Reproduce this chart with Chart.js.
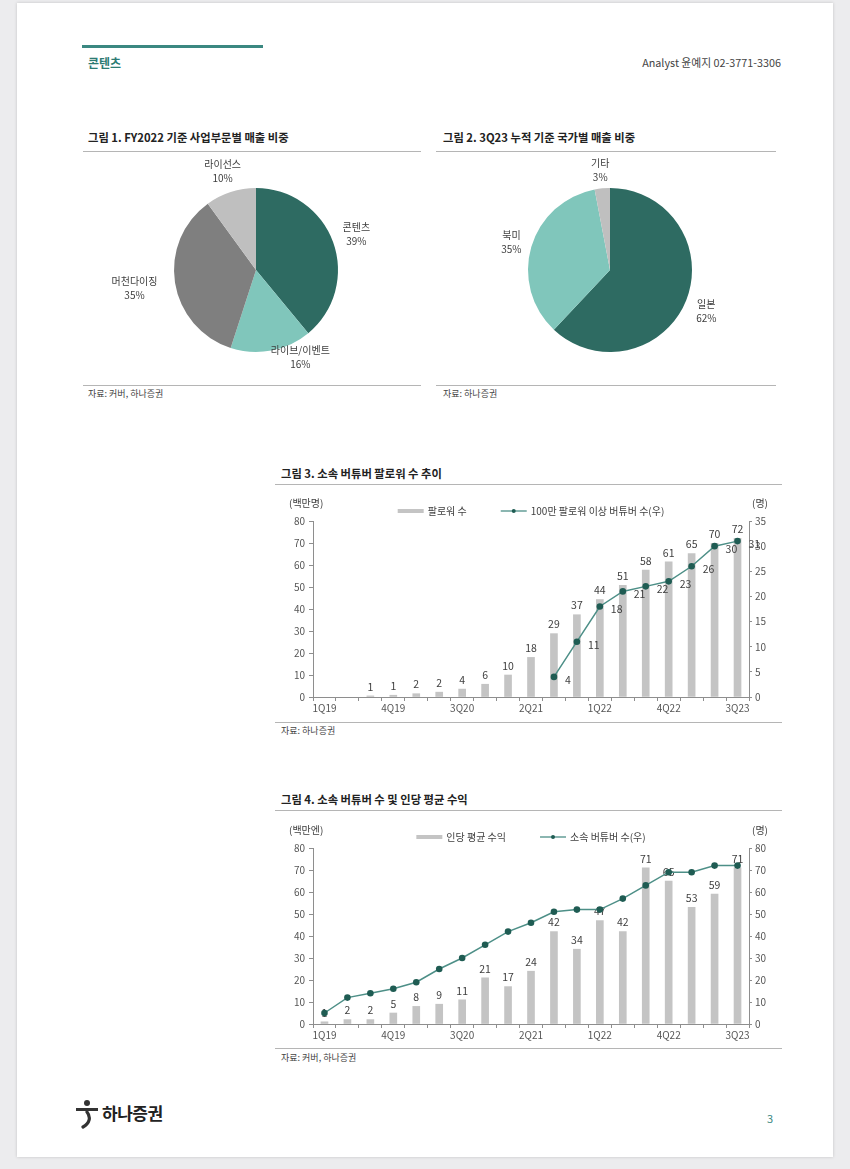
<!DOCTYPE html>
<html><head><meta charset="utf-8">
<script src="https://cdn.jsdelivr.net/npm/chart.js@4.4.1/dist/chart.umd.min.js"></script>
<style>
html,body{margin:0;padding:0;}
body{width:850px;height:1169px;background:#ececee;position:relative;overflow:hidden;font-family:"Noto Sans CJK KR","Noto Sans",sans-serif;color:#333;}
.page{position:absolute;left:17px;top:3px;width:816px;height:1154px;background:#fff;box-shadow:0 0 3px rgba(0,0,0,0.18);}
.abs{position:absolute;white-space:nowrap;}
.title{font-size:11.3px;font-weight:700;color:#222;line-height:14px;}
.src{font-size:9px;color:#444;line-height:12px;}
.rule{height:1px;background:#b5b5b5;}
canvas{position:absolute;}
</style></head>
<body>
<div class="page"></div>
<div class="abs" style="left:82px;top:45px;width:181px;height:3px;background:#3b8881;"></div>
<div class="abs" style="left:88px;top:55px;font-size:12px;font-weight:700;color:#2d7b73;line-height:16px;">콘텐츠</div>
<div class="abs" style="right:69px;top:55px;font-size:10.8px;color:#444;line-height:15px;">Analyst 윤예지 02-3771-3306</div>

<div class="abs title" style="left:88px;top:130px;">그림 1. FY2022 기준 사업부문별 매출 비중</div>
<div class="abs rule" style="left:83px;top:151px;width:338px;"></div>
<div class="abs rule" style="left:83px;top:385px;width:338px;"></div>
<div class="abs src" style="left:88px;top:388px;">자료: 커버, 하나증권</div>

<div class="abs title" style="left:443px;top:130px;">그림 2. 3Q23 누적 기준 국가별 매출 비중</div>
<div class="abs rule" style="left:436px;top:151px;width:340px;"></div>
<div class="abs rule" style="left:436px;top:385px;width:340px;"></div>
<div class="abs src" style="left:443px;top:388px;">자료: 하나증권</div>

<div class="abs title" style="left:281px;top:466px;">그림 3. 소속 버튜버 팔로워 수 추이</div>
<div class="abs rule" style="left:275px;top:484px;width:507px;"></div>
<div class="abs rule" style="left:275px;top:722px;width:507px;"></div>
<div class="abs src" style="left:281px;top:725px;">자료: 하나증권</div>

<div class="abs title" style="left:281px;top:792px;">그림 4. 소속 버튜버 수 및 인당 평균 수익</div>
<div class="abs rule" style="left:275px;top:810px;width:507px;"></div>
<div class="abs rule" style="left:275px;top:1048px;width:507px;"></div>
<div class="abs src" style="left:281px;top:1052px;">자료: 커버, 하나증권</div>

<svg class="abs" style="left:74px;top:1099px;" width="26" height="30" viewBox="0 0 26 30">
<circle cx="13" cy="4" r="3" fill="#333"/>
<rect x="2" y="9" width="22" height="3" fill="#333"/>
<path d="M13 13 C17 18,16 24,9 28" stroke="#333" stroke-width="3.2" fill="none" stroke-linecap="round"/>
</svg>
<div class="abs" style="left:102px;top:1101px;font-size:17px;font-weight:700;color:#222;line-height:23px;letter-spacing:-0.5px;">하나증권</div>
<div class="abs" style="left:767px;top:1111px;font-size:11px;color:#3b8881;line-height:14px;">3</div>

<canvas id="pie1" width="337" height="228" style="left:83px;top:155px;"></canvas>
<canvas id="pie2" width="337" height="228" style="left:437px;top:155px;"></canvas>
<canvas id="c3" width="510" height="234" style="left:275px;top:488px;"></canvas>
<canvas id="c4" width="510" height="232" style="left:275px;top:815px;"></canvas>

<script>
// ---------- data ----------
const quarters = ['1Q19','2Q19','3Q19','4Q19','1Q20','2Q20','3Q20','4Q20','1Q21','2Q21','3Q21','4Q21','1Q22','2Q22','3Q22','4Q22','1Q23','2Q23','3Q23'];
const segmentLabels = ['콘텐츠','라이브/이벤트','머천다이징','라이선스'];
const segmentShares = [39,16,35,10];
const regionLabels = ['일본','북미','기타'];
const regionShares = [62,35,3];
const followers = [null,null,0.5,0.8,1.5,2.2,3.6,5.8,10.0,18.0,28.8,37.4,44.3,50.8,57.7,61.4,65.2,69.8,72.1];
const vtubers1M = [null,null,null,null,null,null,null,null,null,null,4,11,18,21,22,23,26,30,31];
const revenuePerTalent = [1,2,2,5,8,9,11,21,17,24,42,34,47,42,71,65,53,59,71];
const talentCount = [5,12,14,16,19,25,30,36,42,46,51,52,52,57,63,69,69,72,72];
const leftAxis3 = {min:0,max:80,step:10};
const rightAxis3 = {min:0,max:35,step:5};
const leftAxis4 = {min:0,max:80,step:10};
const rightAxis4 = {min:0,max:80,step:10};

// ---------- styles ----------
const FONT = '"Noto Sans CJK KR","Noto Sans",sans-serif';
const DARK = '#2e6b62', LIGHT = '#80c6bb', GRAY = '#7f7f7f', LGRAY = '#bfbfbf';
const BAR = '#c4c4c4', LINE = '#4d8f87', PT = '#1f5c53', AXIS = '#8e8e8e', TXT = '#404040';
Chart.defaults.font.family = FONT;

const pieLabels = {
  id:'pieLabels',
  afterDatasetsDraw(chart, args, opts){
    const ctx = chart.ctx, meta = chart.getDatasetMeta(0), ds = chart.data.datasets[0];
    ctx.save();
    ctx.font = `10px ${FONT}`; ctx.fillStyle = TXT; ctx.textAlign = 'center'; ctx.textBaseline = 'middle';
    meta.data.forEach((arc,i)=>{
      const p = arc.getProps(['x','y','startAngle','endAngle','outerRadius'], true);
      const mid = (p.startAngle+p.endAngle)/2, c = Math.cos(mid), s = Math.sin(mid);
      const l1 = chart.data.labels[i], l2 = ds.data[i] + '%';
      const w = Math.max(ctx.measureText(l1).width, ctx.measureText(l2).width), lh = 14, h = lh*2;
      const d = p.outerRadius + opts.gap + Math.abs(c)*w/2 + Math.abs(s)*h/2;
      const sh = (opts.shift && opts.shift[i]) || [0,0];
      const cx = p.x + c*d + sh[0], cy = p.y + s*d + sh[1];
      ctx.fillText(l1, cx, cy - lh/2);
      ctx.fillText(l2, cx, cy + lh/2);
    });
    ctx.restore();
  }
};

function pieChart(id, labels, data, colors, shift){
  return new Chart(document.getElementById(id), {
    type:'pie',
    data:{labels, datasets:[{data, backgroundColor:colors, borderWidth:0}]},
    options:{responsive:false, animation:false,
      layout:{padding:{left:91, top:33, right:82, bottom:31}},
      plugins:{legend:{display:false}, tooltip:{enabled:false}, pieLabels:{gap:7, shift}}},
    plugins:[pieLabels]
  });
}
pieChart('pie1', segmentLabels, segmentShares, [DARK, LIGHT, GRAY, LGRAY], [[0,0],[24,-19],[-9,0],[0,4]]);
pieChart('pie2', regionLabels, regionShares, [DARK, LIGHT, LGRAY], [[0,3],[0,1],[0,4]]);

const comboDeco = {
  id:'comboDeco',
  afterDatasetDraw(chart, args){
    const ds = chart.data.datasets[args.index];
    if (ds.type !== 'bar') return;
    const ctx = chart.ctx; ctx.save();
    ctx.font = `10.5px ${FONT}`; ctx.fillStyle = TXT; ctx.textAlign = 'center'; ctx.textBaseline = 'bottom';
    args.meta.data.forEach((el,i)=>{
      const v = ds.data[i]; if (v == null) return;
      ctx.fillText(String(Math.round(v)), el.x, el.y - 4);
    });
    ctx.restore();
  },
  afterDatasetsDraw(chart, args, opts){
    const ctx = chart.ctx; ctx.save();
    ctx.font = `10.5px ${FONT}`; ctx.fillStyle = TXT;
    if (opts.lineLabels){
      chart.data.datasets.forEach((ds,di)=>{
        if (ds.type !== 'line') return;
        ctx.textAlign = 'left'; ctx.textBaseline = 'middle';
        chart.getDatasetMeta(di).data.forEach((el,i)=>{
          const v = ds.data[i]; if (v == null) return;
          ctx.fillText(String(v), el.x + 11, el.y + 3);
        });
      });
    }
    // units
    ctx.font = `10px ${FONT}`;
    ctx.textBaseline = 'middle';
    ctx.textAlign = 'left';
    ctx.fillText(opts.unitLeft, 14, opts.unitY);
    ctx.fillText(opts.unitRight, chart.chartArea.right + 3, opts.unitY);
    // legend
    const sw = 26, gap = 4, between = 34;
    const items = chart.data.datasets.map(ds=>({ds, w: ctx.measureText(ds.label).width}));
    const total = items.reduce((a,it)=>a + sw + gap + it.w, 0) + between*(items.length-1);
    let x = (chart.chartArea.left + chart.chartArea.right)/2 - total/2;
    const y = opts.legendY;
    items.forEach(it=>{
      if (it.ds.type === 'bar'){
        ctx.fillStyle = BAR; ctx.fillRect(x, y-2, sw, 4);
      } else {
        ctx.strokeStyle = LINE; ctx.lineWidth = 1.3;
        ctx.beginPath(); ctx.moveTo(x, y); ctx.lineTo(x+sw, y); ctx.stroke();
        ctx.fillStyle = PT; ctx.beginPath(); ctx.arc(x+sw/2, y, 2, 0, Math.PI*2); ctx.fill();
      }
      ctx.fillStyle = TXT; ctx.textAlign = 'left';
      ctx.fillText(it.ds.label, x + sw + gap, y);
      x += sw + gap + it.w + between;
    });
    ctx.restore();
  }
};

function yScale(pos, ax, width){
  return {position:pos, min:ax.min, max:ax.max,
    ticks:{stepSize:ax.step, color:'#555', font:{size:10}, padding: pos==='left'?4:3},
    grid:{drawOnChartArea:false, tickLength: pos==='left'?4:3, color:AXIS},
    border:{display:true, color:AXIS},
    afterFit(s){ s.width = width; s.paddingTop = 0; s.paddingBottom = 0; }};
}

function comboChart(id, barLabel, barData, lineLabel, lineData, la, ra, opts){
  return new Chart(document.getElementById(id), {
    data:{labels:quarters, datasets:[
      {type:'bar', label:barLabel, data:barData, yAxisID:'y', backgroundColor:BAR, barThickness:7, order:1},
      {type:'line', label:lineLabel, data:lineData, yAxisID:'y1', borderColor:LINE, borderWidth:1.5,
       pointRadius:3.3, pointBackgroundColor:PT, pointBorderColor:PT, pointBorderWidth:0, tension:0, order:0}
    ]},
    options:{responsive:false, animation:false,
      layout:{padding:{top:33, left:0, right:0, bottom:0}},
      scales:{
        x:{offset:true, grid:{offset:true, drawOnChartArea:false, tickLength:4, color:AXIS},
           border:{display:true, color:AXIS},
           ticks:{autoSkip:false, maxRotation:0, color:'#555', font:{size:10}, padding:1,
                  callback:(v,i)=> i%3===0 ? quarters[i] : ''},
           afterFit(s){ s.height = opts.xh; s.paddingLeft = 0; s.paddingRight = 0; }},
        y: yScale('left', la, 38),
        y1: yScale('right', ra, 36)
      },
      plugins:{legend:{display:false}, tooltip:{enabled:false},
        comboDeco:{lineLabels:opts.lineLabels, unitLeft:opts.unitLeft, unitRight:'(명)', unitY:opts.unitY, legendY:opts.legendY}}
    },
    plugins:[comboDeco]
  });
}

comboChart('c3', '팔로워 수', followers, '100만 팔로워 이상 버튜버 수(우)', vtubers1M, leftAxis3, rightAxis3,
  {xh:25, lineLabels:true, unitLeft:'(백만명)', unitY:15, legendY:23});
comboChart('c4', '인당 평균 수익', revenuePerTalent, '소속 버튜버 수(우)', talentCount, leftAxis4, rightAxis4,
  {xh:23, lineLabels:false, unitLeft:'(백만엔)', unitY:15, legendY:22});
</script>
</body></html>
